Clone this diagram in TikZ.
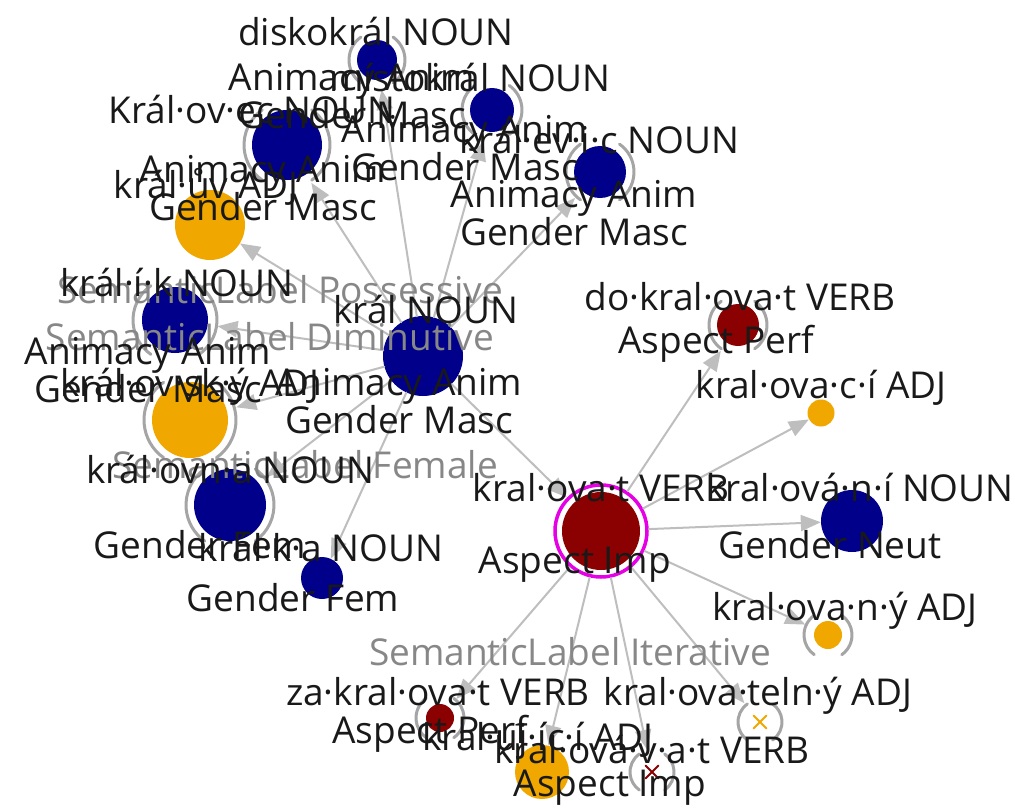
\documentclass[tikz,border=0pt]{standalone}
\usepackage{fontspec}
\setmainfont{Open Sans}
\usetikzlibrary{arrows.meta,shapes.misc}
\definecolor{navyv}{RGB}{0,0,139}
\definecolor{redv}{RGB}{139,0,0}
\definecolor{goldv}{RGB}{240,168,0}
\definecolor{magv}{RGB}{230,0,230}
\definecolor{edgegray}{RGB}{190,190,190}
\definecolor{ringgray}{RGB}{165,165,165}
\definecolor{lblgray}{RGB}{135,135,135}
\definecolor{ink}{RGB}{25,25,25}
\tikzset{
  vtx/.style={circle,fill=#1,inner sep=0pt,draw=none},
  xvtx/.style={cross out,draw=#1,line width=2pt,minimum size=13pt,inner sep=0pt,outer sep=0pt},
  ringarc/.style={draw=ringgray,line width=3pt},
  edge/.style={draw=edgegray,line width=2pt,-{Triangle[length=20pt,width=16pt]}},
  lbl/.style={font=\fontsize{37}{32}\selectfont,text=ink,inner sep=0pt,anchor=base},
  feat/.style={lbl,anchor=north,align=center},
  elbl/.style={lbl,text=lblgray}
}
\begin{document}
\begin{tikzpicture}[x=1pt,y=-1pt,line cap=round,line join=round]
  \fill[white] (0,0) rectangle (1015,809);
  \useasboundingbox (0,0) rectangle (1015,809);
  % vertices
  \node[vtx=navyv,minimum size=80pt] (kral) at (423,356) {};
  \node[vtx=navyv,minimum size=40pt,outer sep=10pt] (disko) at (377,60) {};
  \node[vtx=navyv,minimum size=44pt,outer sep=10pt] (misto) at (492,110) {};
  \node[vtx=navyv,minimum size=52pt,outer sep=10pt] (kralevic) at (600,172) {};
  \node[vtx=navyv,minimum size=70pt,outer sep=10pt] (kralovec) at (287,145) {};
  \node[vtx=goldv,minimum size=70pt] (kraluv) at (210,225) {};
  \node[vtx=navyv,minimum size=66pt,outer sep=10pt] (kralik) at (175,320) {};
  \node[vtx=goldv,minimum size=76pt,outer sep=10pt] (kralovsky) at (190,420) {};
  \node[vtx=navyv,minimum size=72pt,outer sep=10pt] (kralovna) at (230,505) {};
  \node[vtx=navyv,minimum size=42pt] (kralka) at (322,578) {};
  \node[vtx=redv,minimum size=78pt,outer sep=9pt] (kralovat) at (601,531) {};
  \node[vtx=redv,minimum size=42pt,outer sep=10pt] (dokral) at (738,325) {};
  \node[vtx=goldv,minimum size=27pt] (kralovaci) at (821,413) {};
  \node[vtx=navyv,minimum size=62pt] (kralovani) at (852,521) {};
  \node[vtx=goldv,minimum size=28pt,outer sep=11pt] (kralovany) at (828,635) {};
  \node[vtx=redv,minimum size=28pt,outer sep=11pt] (zakral) at (440,718) {};
  \node[vtx=goldv,minimum size=54pt] (kralujici) at (542,772) {};
  \node[xvtx=goldv] (kralovatelny) at (760,722) {};
  \node[xvtx=redv] (kralovavat) at (652,772) {};
  % rings
  \draw[magv,line width=3.5pt] (kralovat.center) circle[radius=46pt];
  \draw[ringarc] ([shift={(125:28pt)}]disko.center) arc[start angle=125,end angle=235,radius=28pt];
  \draw[ringarc] ([shift={(-55:28pt)}]disko.center) arc[start angle=-55,end angle=55,radius=28pt];
  \draw[ringarc] ([shift={(125:30pt)}]misto.center) arc[start angle=125,end angle=235,radius=30pt];
  \draw[ringarc] ([shift={(-55:30pt)}]misto.center) arc[start angle=-55,end angle=55,radius=30pt];
  \draw[ringarc] ([shift={(125:34pt)}]kralevic.center) arc[start angle=125,end angle=235,radius=34pt];
  \draw[ringarc] ([shift={(-55:34pt)}]kralevic.center) arc[start angle=-55,end angle=55,radius=34pt];
  \draw[ringarc] ([shift={(125:43pt)}]kralovec.center) arc[start angle=125,end angle=235,radius=43pt];
  \draw[ringarc] ([shift={(-55:43pt)}]kralovec.center) arc[start angle=-55,end angle=55,radius=43pt];
  \draw[ringarc] ([shift={(125:42pt)}]kralik.center) arc[start angle=125,end angle=235,radius=42pt];
  \draw[ringarc] ([shift={(-55:42pt)}]kralik.center) arc[start angle=-55,end angle=55,radius=42pt];
  \draw[ringarc] ([shift={(125:46pt)}]kralovsky.center) arc[start angle=125,end angle=235,radius=46pt];
  \draw[ringarc] ([shift={(-55:46pt)}]kralovsky.center) arc[start angle=-55,end angle=55,radius=46pt];
  \draw[ringarc] ([shift={(125:44pt)}]kralovna.center) arc[start angle=125,end angle=235,radius=44pt];
  \draw[ringarc] ([shift={(-55:44pt)}]kralovna.center) arc[start angle=-55,end angle=55,radius=44pt];
  \draw[ringarc] ([shift={(125:29pt)}]dokral.center) arc[start angle=125,end angle=235,radius=29pt];
  \draw[ringarc] ([shift={(-55:29pt)}]dokral.center) arc[start angle=-55,end angle=55,radius=29pt];
  \draw[ringarc] ([shift={(125:24pt)}]kralovany.center) arc[start angle=125,end angle=235,radius=24pt];
  \draw[ringarc] ([shift={(-55:24pt)}]kralovany.center) arc[start angle=-55,end angle=55,radius=24pt];
  \draw[ringarc] ([shift={(125:24pt)}]zakral.center) arc[start angle=125,end angle=235,radius=24pt];
  \draw[ringarc] ([shift={(-55:24pt)}]zakral.center) arc[start angle=-55,end angle=55,radius=24pt];
  \draw[ringarc] ([shift={(125:22pt)}]kralovatelny.center) arc[start angle=125,end angle=235,radius=22pt];
  \draw[ringarc] ([shift={(-55:22pt)}]kralovatelny.center) arc[start angle=-55,end angle=55,radius=22pt];
  \draw[ringarc] ([shift={(125:22pt)}]kralovavat.center) arc[start angle=125,end angle=235,radius=22pt];
  \draw[ringarc] ([shift={(-55:22pt)}]kralovavat.center) arc[start angle=-55,end angle=55,radius=22pt];
  % edges
  \draw[edge] (kral) -- (disko);
  \draw[edge] (kral) -- (misto);
  \draw[edge] (kral) -- (kralevic);
  \draw[edge] (kral) -- (kralovec);
  \draw[edge] (kral) -- (kraluv);
  \draw[edge] (kral) -- (kralik);
  \draw[edge] (kral) -- (kralovsky);
  \draw[edge] (kral) -- (kralovna);
  \draw[edge] (kral) -- (kralka);
  \draw[edge] (kral) -- (kralovat);
  \draw[edge] (kralovat) -- (dokral);
  \draw[edge] (kralovat) -- (kralovaci);
  \draw[edge] (kralovat) -- (kralovani);
  \draw[edge] (kralovat) -- (kralovany);
  \draw[edge,shorten >=16pt] (kralovat) -- (kralovatelny);
  \draw[edge,shorten >=16pt] (kralovat) -- (kralovavat);
  \draw[edge] (kralovat) -- (kralujici);
  \draw[edge] (kralovat) -- (zakral);
  % edge labels
  \node[elbl] (poss-l) at (280,303) {SemanticLabel Possessive};
  \node[elbl] (dim-l) at (270,350) {SemanticLabel Diminutive};
  \node[elbl] (fem-l) at (305,478) {SemanticLabel Female};
  \node[elbl] (iter-l) at (570,665) {SemanticLabel Iterative};
  % vertex labels
  \node[lbl] (kralovsky-l) at (190,396) {král·ov·sk·ý ADJ};
  \node[lbl] (kralujici-l) at (538,750) {kral·uj·íc·í ADJ};
  \node[lbl] (disko-l) at (376,45) {diskokrál NOUN};
  \node[lbl] (misto-l) at (470,91) {místokrál NOUN};
  \node[lbl] (kralevic-l) at (599,153) {král·ev·i·c NOUN};
  \node[lbl] (kralovec-l) at (252,123) {Král·ov·ec NOUN};
  \node[lbl] (kraluv-l) at (206,198) {král·ův ADJ};
  \node[lbl] (kralik-l) at (177,296) {král·í·k NOUN};
  \node[lbl] (kral-l) at (426,323) {král NOUN};
  \node[lbl] (kralovna-l) at (230,483) {král·ovn·a NOUN};
  \node[lbl] (kralka-l) at (321,561) {král·k·a NOUN};
  \node[lbl] (kralovat-l) at (601,501) {kral·ova·t VERB};
  \node[lbl] (dokral-l) at (740,310) {do·kral·ova·t VERB};
  \node[lbl] (kralovaci-l) at (821,398) {kral·ova·c·í ADJ};
  \node[lbl] (kralovani-l) at (860,501) {kral·ová·n·í NOUN};
  \node[lbl] (kralovany-l) at (845,620) {kral·ova·n·ý ADJ};
  \node[lbl] (zakral-l) at (438,705) {za·kral·ova·t VERB};
  \node[lbl] (kralovatelny-l) at (758,705) {kral·ova·teln·ý ADJ};
  \node[lbl] (kralovavat-l) at (652,763) {kral·ová·v·a·t VERB};
  % feature labels
  \node[feat] (disko-f) at (352,63) {Animacy Anim\\Gender Masc};
  \node[feat] (misto-f) at (465,115) {Animacy Anim\\Gender Masc};
  \node[feat] (kralevic-f) at (574,180) {Animacy Anim\\Gender Masc};
  \node[feat] (kralovec-f) at (263,155) {Animacy Anim\\Gender Masc};
  \node[feat] (kralik-f) at (148,337) {Animacy Anim\\Gender Masc};
  \node[feat] (kral-f) at (399,368) {Animacy Anim\\Gender Masc};
  \node[feat] (kralovna-f) at (200,530) {Gender Fem};
  \node[feat] (kralka-f) at (293,583) {Gender Fem};
  \node[feat] (kralovat-f) at (575,547) {Aspect Imp};
  \node[feat] (dokral-f) at (716,325) {Aspect Perf};
  \node[feat] (kralovani-f) at (830,530) {Gender Neut};
  \node[feat] (zakral-f) at (430,715) {Aspect Perf};
  \node[feat] (kralovavat-f) at (610,770) {Aspect Imp};
\end{tikzpicture}
\end{document}
